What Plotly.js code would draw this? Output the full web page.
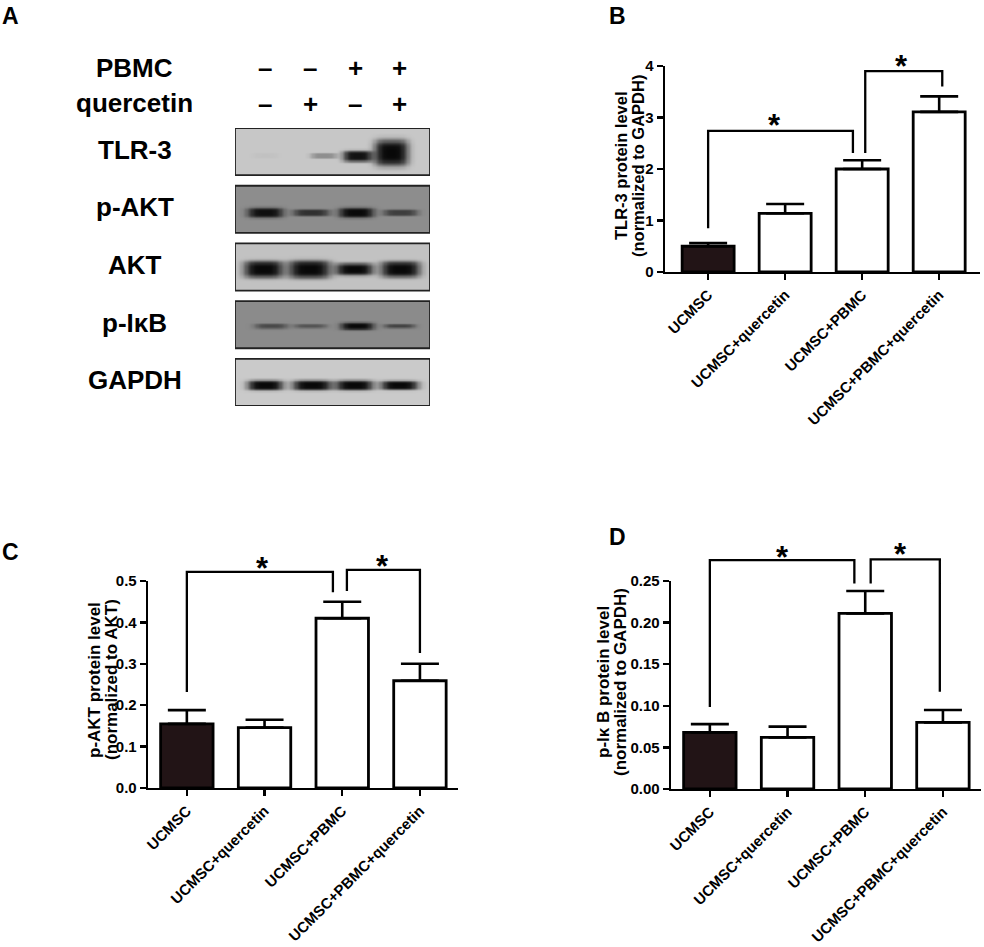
<!DOCTYPE html>
<html><head><meta charset="utf-8">
<script src="https://cdn.plot.ly/plotly-3.0.1.min.js"></script>
<style>html,body{margin:0;padding:0;background:#fff}#chart{width:984px;height:947px}</style>
</head><body><div id="chart"></div>
<script>
// ---------------- DATA ----------------
const groups = ['UCMSC', 'UCMSC+quercetin', 'UCMSC+PBMC', 'UCMSC+PBMC+quercetin'];
const tlr3Mean = [0.50, 1.14, 2.00, 3.11];
const tlr3Err  = [0.06, 0.18, 0.17, 0.30];
const pAktMean = [0.155, 0.146, 0.410, 0.259];
const pAktErr  = [0.033, 0.019, 0.040, 0.041];
const pIkbMean = [0.068, 0.062, 0.211, 0.080];
const pIkbErr  = [0.010, 0.013, 0.027, 0.015];

// significance brackets (data units; null separates brackets)
const sigBx = [0, 0, 1.88, 1.88, null, 2.04, 2.04, 3.04, 3.04];
const sigBy = [0.85, 2.74, 2.74, 2.31, null, 2.31, 3.90, 3.90, 3.60];
const starBx = [0.86, 2.51], starBy = [2.99, 4.12];
const sigCx = [0, 0, 1.88, 1.88, null, 2.06, 2.06, 3.0, 3.0];
const sigCy = [0.232, 0.522, 0.522, 0.473, null, 0.476, 0.527, 0.527, 0.326];
const starCx = [0.98, 2.52], starCy = [0.546, 0.551];
const sigDx = [0, 0, 1.86, 1.86, null, 2.07, 2.07, 2.96, 2.96];
const sigDy = [0.0986, 0.275, 0.275, 0.247, null, 0.247, 0.276, 0.276, 0.117];
const starDx = [0.94, 2.46], starDy = [0.287, 0.29];

// western blot (panel A): band darkness per lane, background darkness per membrane
const blotNames = ['TLR-3', 'p-AKT', 'AKT', 'p-I\u03baB', 'GAPDH'];
const pbmcSigns = ['\u2013', '\u2013', '+', '+'];
const quercetinSigns = ['\u2013', '+', '\u2013', '+'];
const bandTLR3 = [0.03, 0.30, 0.95, 1.0];
const bandPAKT = [0.95, 0.70, 1.0, 0.60];
const bandAKT  = [1.0, 1.0, 1.0, 1.0];
const bandPIkB = [0.50, 0.42, 1.0, 0.55];
const bandGAPDH = [1.0, 1.0, 1.0, 1.0];
const blotBackground = [0.21, 0.45, 0.23, 0.46, 0.20];

// ---------------- STYLE ----------------
const W = 984, H = 947;
const px = x => x / W;
const py = y => 1 - y / H;
const FONT = 'Liberation Sans, Arial, Helvetica, sans-serif';
const bandShape = [ // half width, x shift, half height, y shift (per lane)
  {hw:[0.30,0.30,0.33,0.38], sx:[0,0.30,0.05,-0.2], hh:[0.06,0.06,0.12,0.28], sy:[0.08,0.085,0.09,0.02]},
  {hw:[0.40,0.41,0.39,0.39], sx:[0,0.02,0.02,0], hh:[0.11,0.075,0.11,0.07], sy:[0.064,0.064,0.064,0.064]},
  {hw:[0.44,0.47,0.42,0.44], sx:[-0.04,-0.02,-0.02,0], hh:[0.18,0.19,0.13,0.17], sy:[0.04,0.04,0.04,0.04]},
  {hw:[0.37,0.37,0.37,0.35], sx:[0.13,0,0.04,-0.02], hh:[0.06,0.05,0.08,0.05], sy:[0.02,0.02,0.02,0.02]},
  {hw:[0.40,0.44,0.42,0.42], sx:[0,0.04,-0.02,-0.02], hh:[0.11,0.11,0.11,0.10], sy:[0.05,0.05,0.05,0.05]}
];
const bandData = [bandTLR3, bandPAKT, bandAKT, bandPIkB, bandGAPDH];
const BX0 = -0.667, BX1 = 3.667, ROWSTEP = 1.227;
const blotCenters = blotNames.map((_, i) => i * ROWSTEP);

function blotTrace(b) {
  const nx = 160, ny = 40, c = blotCenters[b], s = bandShape[b], I = bandData[b], bg = blotBackground[b];
  const xs = [], ys = [], z = [];
  for (let i = 0; i < nx; i++) xs.push(BX0 + (i + 0.5) * (BX1 - BX0) / nx);
  for (let j = 0; j < ny; j++) ys.push(c - 0.5 + (j + 0.5) / ny);
  for (let j = 0; j < ny; j++) {
    const row = [];
    for (let i = 0; i < nx; i++) {
      let v = 0;
      for (let l = 0; l < 4; l++) {
        const dx = (xs[i] - (l + s.sx[l])) / s.hw[l];
        const dy = (ys[j] - c - s.sy[l]) / s.hh[l];
        v += I[l] * Math.exp(-(Math.pow(dx, 4) + Math.pow(dy, 4)));
      }
      row.push(bg + (1 - bg) * Math.min(1, v));
    }
    z.push(row);
  }
  return {type:'heatmap', x:xs, y:ys, z:z, xaxis:'x', yaxis:'y', zmin:0, zmax:1, zsmooth:'best',
    colorscale:[[0,'#fafafa'],[1,'#080808']], showscale:false, hoverinfo:'skip'};
}

const barFill = ['#221416', '#ffffff', '#ffffff', '#ffffff'];
function barTrace(xa, ya, means, errs) {
  return {type:'bar', x:[0,1,2,3], y:means, xaxis:xa, yaxis:ya, width:0.675,
    marker:{color:barFill, line:{color:'#000', width:2.8}},
    error_y:{type:'data', symmetric:false, array:errs, arrayminus:[0,0,0,0], color:'#000', thickness:2.6, width:19},
    hoverinfo:'skip', showlegend:false};
}
function bracketTrace(xa, ya, xs, ys) {
  return {type:'scatter', mode:'lines', x:xs, y:ys, xaxis:xa, yaxis:ya, cliponaxis:false,
    line:{color:'#000', width:2.3}, hoverinfo:'skip', showlegend:false, connectgaps:false};
}

// panel geometry (pixels): y of value 0, y of axis max, y of top of annotation area
const panels = {
  B:{x0:665, x1:980, yBot:272, yTop:66, yExt:38, xr:[-0.56, 3.53], ymax:4, dtick:1, fmt:'d'},
  C:{x0:148, x1:458, yBot:788, yTop:581, yExt:540, xr:[-0.5, 3.49], ymax:0.5, dtick:0.1, fmt:'.1f'},
  D:{x0:671, x1:981, yBot:789, yTop:581, yExt:540, xr:[-0.5, 3.49], ymax:0.25, dtick:0.05, fmt:'.2f'}
};
const extMax = p => p.ymax * (p.yBot - p.yExt) / (p.yBot - p.yTop);

const traces = [];
for (let b = 0; b < blotNames.length; b++) traces.push(blotTrace(b));
traces.push(barTrace('x2','y2', tlr3Mean, tlr3Err), bracketTrace('x2','y5', sigBx, sigBy));
traces.push(barTrace('x3','y3', pAktMean, pAktErr), bracketTrace('x3','y6', sigCx, sigCy));
traces.push(barTrace('x4','y4', pIkbMean, pIkbErr), bracketTrace('x4','y7', sigDx, sigDy));

const tickFont = {family:FONT, size:15, color:'#000', weight:'bold'};
function xAx(p, anchor) {
  return {domain:[px(p.x0), px(p.x1)], anchor:anchor, range:p.xr, tickvals:[0,1,2,3], ticktext:groups,
    tickangle:-45, showline:true, linecolor:'#000', linewidth:2.3, ticks:'outside', ticklen:6, tickwidth:2.3,
    tickcolor:'#000', showgrid:false, zeroline:false, tickfont:tickFont, fixedrange:true};
}
function yAx(p, anchor) {
  return {domain:[py(p.yBot), py(p.yTop)], anchor:anchor, range:[0, p.ymax], dtick:p.dtick, tick0:0, tickformat:p.fmt,
    showline:true, linecolor:'#000', linewidth:2.3, ticks:'outside', ticklen:6, tickwidth:2.3, tickcolor:'#000',
    showgrid:false, zeroline:false, tickfont:tickFont, fixedrange:true};
}
function yExtAx(p, anchor) {
  return {domain:[py(p.yBot), py(p.yExt)], anchor:anchor, range:[0, extMax(p)], visible:false, fixedrange:true};
}

const annotations = [];
const shapes = [];
// panel letters
[['A',10,16],['B',617,16],['C',10,552],['D',617,537]].forEach(p => annotations.push({
  text:p[0], x:px(p[1]), y:py(p[2]), xref:'paper', yref:'paper', showarrow:false,
  xanchor:'center', yanchor:'middle', font:{family:FONT, size:23, color:'#000', weight:'bold'}}));
// blot labels
const labFont = {family:FONT, size:26, color:'#000', weight:'bold'};
annotations.push({text:'PBMC', x:px(134.5), y:py(68), xref:'paper', yref:'paper', showarrow:false, xanchor:'center', yanchor:'middle', font:labFont});
annotations.push({text:'quercetin', x:px(134.5), y:py(103), xref:'paper', yref:'paper', showarrow:false, xanchor:'center', yanchor:'middle', font:labFont});
for (let l = 0; l < 4; l++) {
  annotations.push({text:pbmcSigns[l], x:l, y:py(68), xref:'x', yref:'paper', showarrow:false, xanchor:'center', yanchor:'middle', font:labFont});
  annotations.push({text:quercetinSigns[l], x:l, y:py(104), xref:'x', yref:'paper', showarrow:false, xanchor:'center', yanchor:'middle', font:labFont});
}
blotNames.forEach((n, i) => {
  annotations.push({text:n, x:px(134.5), y:blotCenters[i], xref:'paper', yref:'y', showarrow:false, xanchor:'center', yanchor:'middle', yshift:2, font:labFont});
  shapes.push({type:'rect', xref:'x', yref:'y', x0:BX0, x1:BX1, y0:blotCenters[i]-0.5, y1:blotCenters[i]+0.5,
    line:{color:'#222', width:1.8}, layer:'above'});
});
// y-axis titles (two tight lines)
function yTitle(lines, xs, yc, size) {
  lines.forEach((t, k) => annotations.push({text:t, x:px(xs[k]), y:py(yc), xref:'paper', yref:'paper', textangle:-90,
    showarrow:false, xanchor:'center', yanchor:'middle', font:{family:FONT, size:size, color:'#000', weight:'bold'}}));
}
yTitle(['TLR-3 protein level', '(normalized to GAPDH)'], [621, 638], 166, 16.5);
yTitle(['p-AKT protein level', '(normalized to AKT)'], [94, 111], 680, 17);
yTitle(['p-I\u03ba B protein level', '(normalized to GAPDH)'], [603, 620], 682, 17);
// stars
function stars(xa, ya, xs, ys) {
  xs.forEach((x, k) => annotations.push({text:'*', x:x, y:ys[k], xref:xa, yref:ya, showarrow:false,
    xanchor:'center', yanchor:'middle', yshift:-7, font:{family:FONT, size:31, color:'#000', weight:'bold'}}));
}
stars('x2','y5', starBx, starBy);
stars('x3','y6', starCx, starCy);
stars('x4','y7', starDx, starDy);

const layout = {
  width:W, height:H, margin:{l:0, r:0, t:0, b:0}, paper_bgcolor:'#fff', plot_bgcolor:'rgba(0,0,0,0)',
  showlegend:false, bargap:0, font:{family:FONT, color:'#000'},
  xaxis:{domain:[px(235), px(430)], anchor:'y', range:[BX0, BX1], visible:false, fixedrange:true},
  yaxis:{domain:[py(406), py(128)], anchor:'x', range:[4*ROWSTEP+0.5, -0.5], visible:false, fixedrange:true},
  xaxis2:xAx(panels.B, 'y2'), yaxis2:yAx(panels.B, 'x2'), yaxis5:yExtAx(panels.B, 'x2'),
  xaxis3:xAx(panels.C, 'y3'), yaxis3:yAx(panels.C, 'x3'), yaxis6:yExtAx(panels.C, 'x3'),
  xaxis4:xAx(panels.D, 'y4'), yaxis4:yAx(panels.D, 'x4'), yaxis7:yExtAx(panels.D, 'x4'),
  annotations:annotations, shapes:shapes
};
Plotly.newPlot('chart', traces, layout, {staticPlot:true, displayModeBar:false});
</script></body></html>
